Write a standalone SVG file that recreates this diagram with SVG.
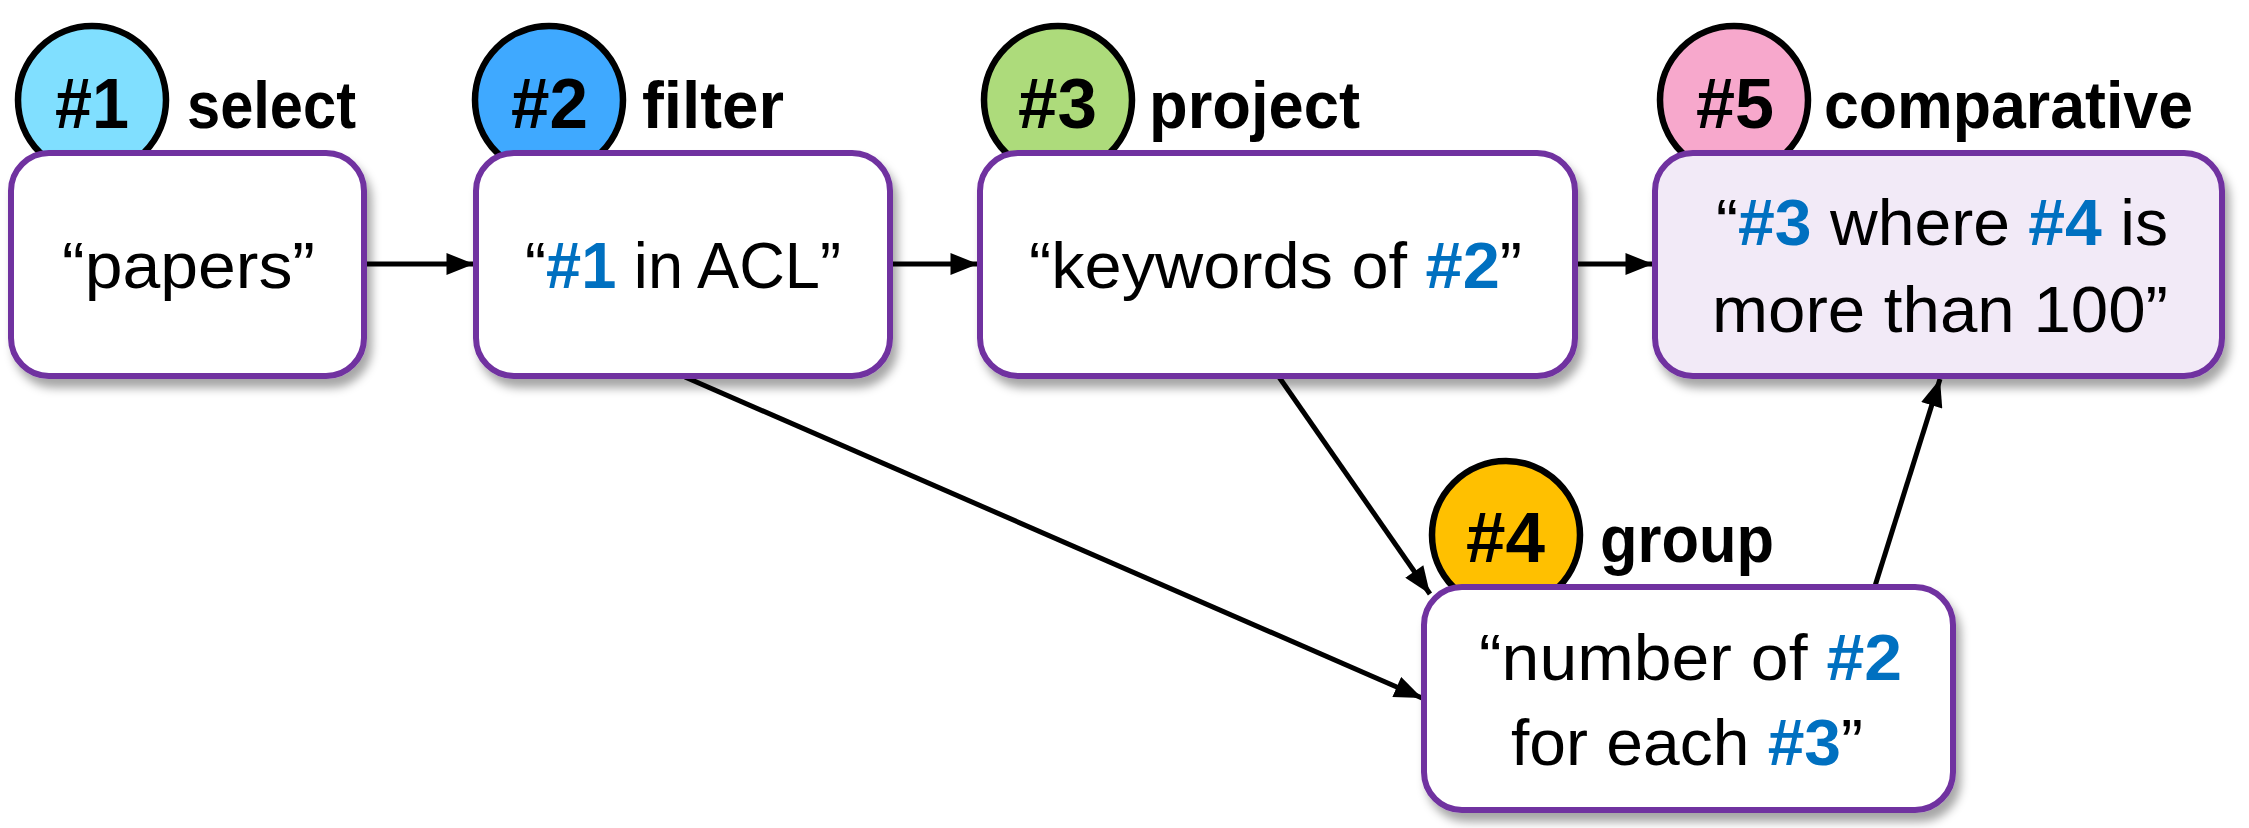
<svg xmlns="http://www.w3.org/2000/svg" width="2249" height="828" viewBox="0 0 2249 828">
<defs>
  <filter id="sh" x="-10%" y="-10%" width="125%" height="135%">
    <feDropShadow dx="5" dy="9" stdDeviation="5" flood-color="#000" flood-opacity="0.35"/>
  </filter>
  <marker id="ah" viewBox="0 0 10 8" markerWidth="28" markerHeight="22" refX="10" refY="4" orient="auto" markerUnits="userSpaceOnUse">
    <path d="M0,0 L10,4 L0,8 z" fill="#000"/>
  </marker>
  <style>
    .box{fill:#fff;stroke:#7030A0;stroke-width:6;filter:url(#sh)}
    .circ{stroke:#000;stroke-width:6.5}
    .num{font-family:"Liberation Sans",Arial,sans-serif;font-weight:bold;font-size:70px;fill:#000}
    .lbl{font-family:"Liberation Sans",Arial,sans-serif;font-weight:bold;font-size:66px;fill:#000}
    .txt{font-family:"Liberation Sans",Arial,sans-serif;font-size:65px;fill:#000;text-anchor:start}
    .ref{font-weight:bold;fill:#0070C0}
    .con{stroke:#000;stroke-width:5;fill:none;marker-end:url(#ah)}
  </style>
</defs>
<rect width="2249" height="828" fill="#fff"/>

<g id="connectors">
  <line class="con" x1="365" y1="264" x2="474" y2="264"/>
  <line class="con" x1="892" y1="264" x2="978" y2="264"/>
  <line class="con" x1="1577" y1="264" x2="1653" y2="264"/>
  <line class="con" x1="685" y1="377" x2="1422" y2="698"/>
  <line class="con" x1="1279" y1="377" x2="1430" y2="594"/>
  <line class="con" x1="1875" y1="586" x2="1940" y2="379"/>
</g>

<g id="node1">
  <circle class="circ" cx="92" cy="100" r="74" fill="#80DFFF"/>
  <rect class="box" x="11" y="153" width="353" height="223" rx="38"/>
  <text class="num" x="55" y="128" textLength="74" lengthAdjust="spacingAndGlyphs">#1</text>
  <text class="lbl" x="187" y="128" textLength="169" lengthAdjust="spacingAndGlyphs">select</text>
  <text class="txt" x="62" y="288" textLength="253" lengthAdjust="spacingAndGlyphs">“papers”</text>
</g>

<g id="node2">
  <circle class="circ" cx="549" cy="100" r="74" fill="#3FA9FF"/>
  <rect class="box" x="476" y="153" width="414" height="223" rx="38"/>
  <text class="num" x="511" y="128" textLength="77" lengthAdjust="spacingAndGlyphs">#2</text>
  <text class="lbl" x="642" y="128" textLength="142" lengthAdjust="spacingAndGlyphs">filter</text>
  <text class="txt" x="525" y="288" textLength="316" lengthAdjust="spacingAndGlyphs">“<tspan class="ref">#1</tspan> in ACL”</text>
</g>

<g id="node3">
  <circle class="circ" cx="1058" cy="100" r="74" fill="#ADDB7B"/>
  <rect class="box" x="980" y="153" width="595" height="223" rx="38"/>
  <text class="num" x="1018" y="128" textLength="79" lengthAdjust="spacingAndGlyphs">#3</text>
  <text class="lbl" x="1149" y="128" textLength="211" lengthAdjust="spacingAndGlyphs">project</text>
  <text class="txt" x="1029" y="288" textLength="493" lengthAdjust="spacingAndGlyphs">“keywords of <tspan class="ref">#2</tspan>”</text>
</g>

<g id="node5">
  <circle class="circ" cx="1734" cy="100" r="74" fill="#F7A8CC"/>
  <rect class="box" x="1655" y="153" width="567" height="223" rx="38" style="fill:#F2EAF7"/>
  <text class="num" x="1696" y="128" textLength="78" lengthAdjust="spacingAndGlyphs">#5</text>
  <text class="lbl" x="1824" y="128" textLength="369" lengthAdjust="spacingAndGlyphs">comparative</text>
  <text class="txt" x="1716" y="245" textLength="452" lengthAdjust="spacingAndGlyphs">“<tspan class="ref">#3</tspan> where <tspan class="ref">#4</tspan> is</text>
  <text class="txt" x="1712" y="332" textLength="456" lengthAdjust="spacingAndGlyphs">more than 100”</text>
</g>

<g id="node4">
  <circle class="circ" cx="1506" cy="535" r="74" fill="#FFC000"/>
  <rect class="box" x="1424" y="587" width="529" height="223" rx="38"/>
  <text class="num" x="1466" y="562" textLength="79" lengthAdjust="spacingAndGlyphs">#4</text>
  <text class="lbl" x="1600" y="562" textLength="174" lengthAdjust="spacingAndGlyphs">group</text>
  <text class="txt" x="1479" y="680" textLength="423" lengthAdjust="spacingAndGlyphs">“number of <tspan class="ref">#2</tspan></text>
  <text class="txt" x="1511" y="765" textLength="352" lengthAdjust="spacingAndGlyphs">for each <tspan class="ref">#3</tspan>”</text>
</g>
</svg>
